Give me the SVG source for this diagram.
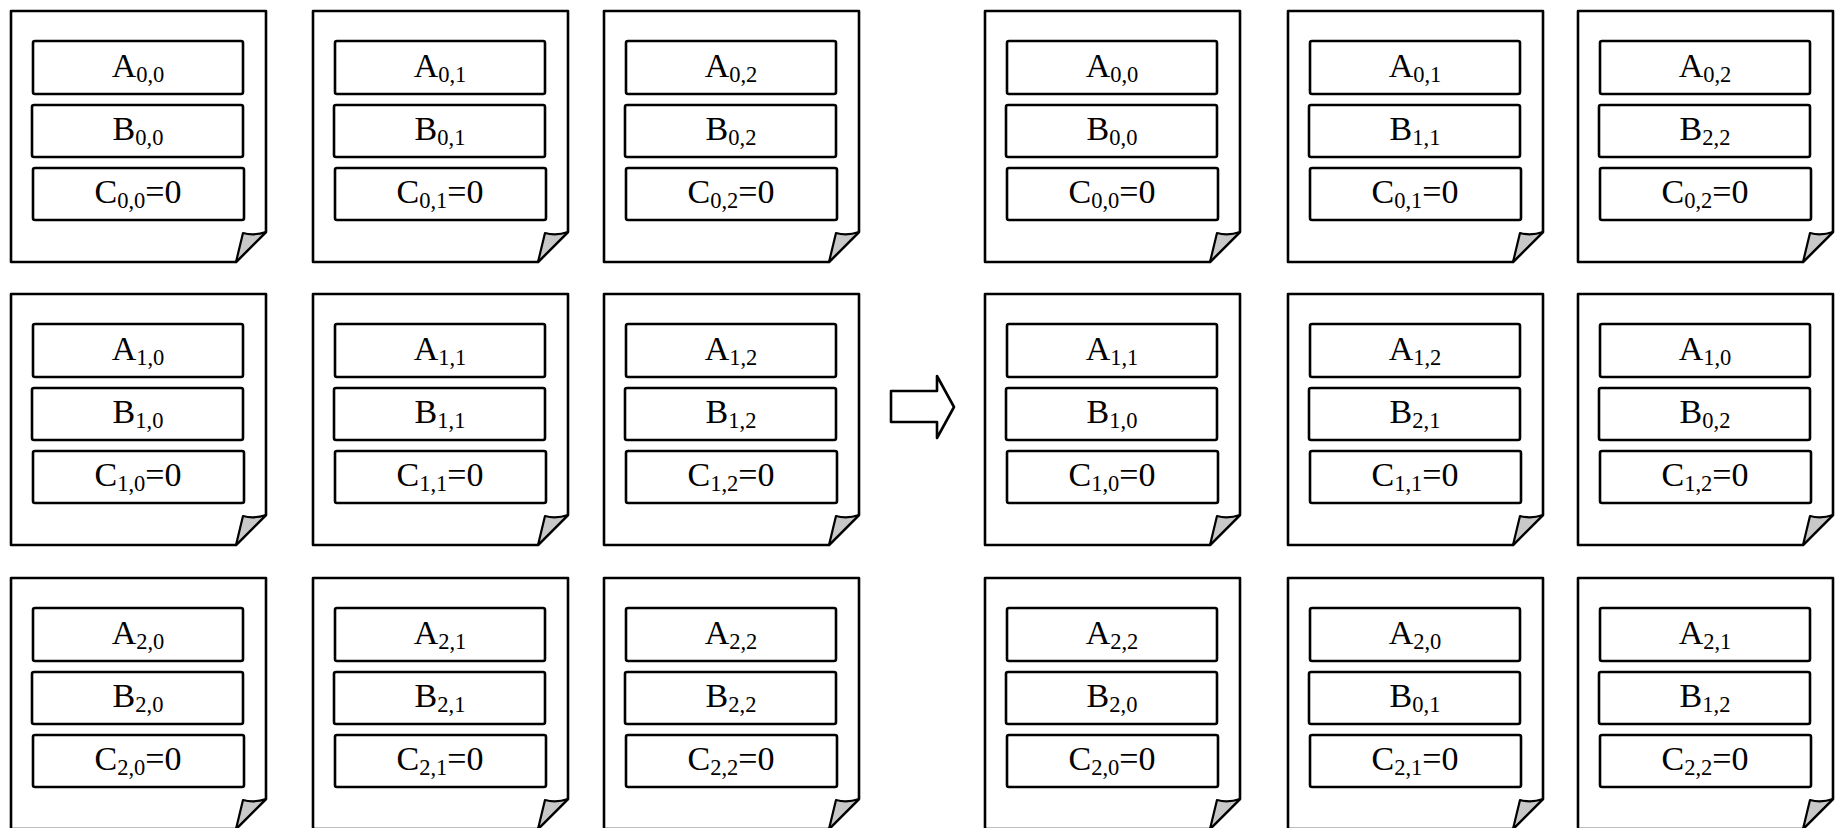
<svg xmlns="http://www.w3.org/2000/svg" xmlns:xlink="http://www.w3.org/1999/xlink" width="1840" height="828" viewBox="0 0 1840 828">
  <style>
    .page { fill: #ffffff; stroke: #000000; stroke-width: 2.6; stroke-linejoin: round; }
    .fold { fill: #c8c8c8; stroke: #000000; stroke-width: 2.2; stroke-linejoin: round; }
    .cell { fill: #ffffff; stroke: #000000; stroke-width: 2.6; }
    .lbl { font-family: "Liberation Serif", "Times New Roman", serif; font-size: 34px; fill: #000000; text-anchor: middle; }
    .sub { font-size: 22.5px; }
    .arrow { fill: #ffffff; stroke: #000000; stroke-width: 2.6; stroke-linejoin: round; }
  </style>
  <defs>
    <!-- sheet of paper with dog-eared bottom-right corner and three cells -->
    <g id="sheet">
      <path class="page" d="M0,0 H255 V221 L225,251 H0 Z"/>
      <path class="fold" d="M255,221 L225,251 L232,222 Q243,225 255,221 Z"/>
      <rect class="cell" x="22" y="30" width="210" height="53" rx="2"/>
      <rect class="cell" x="21" y="94" width="211" height="52" rx="2"/>
      <rect class="cell" x="22" y="157" width="211" height="52" rx="2"/>
    </g>
  </defs>

  <!-- left grid: initial distribution -->
  <g id="L00" transform="translate(11,11)"><use xlink:href="#sheet"/>
    <text class="lbl" x="127" y="66">A<tspan class="sub" dy="5">0,0</tspan></text>
    <text class="lbl" x="127" y="129">B<tspan class="sub" dy="5">0,0</tspan></text>
    <text class="lbl" x="127" y="192">C<tspan class="sub" dy="5">0,0</tspan><tspan dy="-5">=0</tspan></text></g>
  <g id="L01" transform="translate(313,11)"><use xlink:href="#sheet"/>
    <text class="lbl" x="127" y="66">A<tspan class="sub" dy="5">0,1</tspan></text>
    <text class="lbl" x="127" y="129">B<tspan class="sub" dy="5">0,1</tspan></text>
    <text class="lbl" x="127" y="192">C<tspan class="sub" dy="5">0,1</tspan><tspan dy="-5">=0</tspan></text></g>
  <g id="L02" transform="translate(604,11)"><use xlink:href="#sheet"/>
    <text class="lbl" x="127" y="66">A<tspan class="sub" dy="5">0,2</tspan></text>
    <text class="lbl" x="127" y="129">B<tspan class="sub" dy="5">0,2</tspan></text>
    <text class="lbl" x="127" y="192">C<tspan class="sub" dy="5">0,2</tspan><tspan dy="-5">=0</tspan></text></g>

  <g id="L10" transform="translate(11,294)"><use xlink:href="#sheet"/>
    <text class="lbl" x="127" y="66">A<tspan class="sub" dy="5">1,0</tspan></text>
    <text class="lbl" x="127" y="129">B<tspan class="sub" dy="5">1,0</tspan></text>
    <text class="lbl" x="127" y="192">C<tspan class="sub" dy="5">1,0</tspan><tspan dy="-5">=0</tspan></text></g>
  <g id="L11" transform="translate(313,294)"><use xlink:href="#sheet"/>
    <text class="lbl" x="127" y="66">A<tspan class="sub" dy="5">1,1</tspan></text>
    <text class="lbl" x="127" y="129">B<tspan class="sub" dy="5">1,1</tspan></text>
    <text class="lbl" x="127" y="192">C<tspan class="sub" dy="5">1,1</tspan><tspan dy="-5">=0</tspan></text></g>
  <g id="L12" transform="translate(604,294)"><use xlink:href="#sheet"/>
    <text class="lbl" x="127" y="66">A<tspan class="sub" dy="5">1,2</tspan></text>
    <text class="lbl" x="127" y="129">B<tspan class="sub" dy="5">1,2</tspan></text>
    <text class="lbl" x="127" y="192">C<tspan class="sub" dy="5">1,2</tspan><tspan dy="-5">=0</tspan></text></g>

  <g id="L20" transform="translate(11,578)"><use xlink:href="#sheet"/>
    <text class="lbl" x="127" y="66">A<tspan class="sub" dy="5">2,0</tspan></text>
    <text class="lbl" x="127" y="129">B<tspan class="sub" dy="5">2,0</tspan></text>
    <text class="lbl" x="127" y="192">C<tspan class="sub" dy="5">2,0</tspan><tspan dy="-5">=0</tspan></text></g>
  <g id="L21" transform="translate(313,578)"><use xlink:href="#sheet"/>
    <text class="lbl" x="127" y="66">A<tspan class="sub" dy="5">2,1</tspan></text>
    <text class="lbl" x="127" y="129">B<tspan class="sub" dy="5">2,1</tspan></text>
    <text class="lbl" x="127" y="192">C<tspan class="sub" dy="5">2,1</tspan><tspan dy="-5">=0</tspan></text></g>
  <g id="L22" transform="translate(604,578)"><use xlink:href="#sheet"/>
    <text class="lbl" x="127" y="66">A<tspan class="sub" dy="5">2,2</tspan></text>
    <text class="lbl" x="127" y="129">B<tspan class="sub" dy="5">2,2</tspan></text>
    <text class="lbl" x="127" y="192">C<tspan class="sub" dy="5">2,2</tspan><tspan dy="-5">=0</tspan></text></g>

  <!-- connector: block arrow -->
  <g id="connectors">
    <path class="arrow" d="M891,391 H937 V376 L954,407 L937,438 V422 H891 Z"/>
  </g>

  <!-- right grid: after initial skew -->
  <g id="R00" transform="translate(985,11)"><use xlink:href="#sheet"/>
    <text class="lbl" x="127" y="66">A<tspan class="sub" dy="5">0,0</tspan></text>
    <text class="lbl" x="127" y="129">B<tspan class="sub" dy="5">0,0</tspan></text>
    <text class="lbl" x="127" y="192">C<tspan class="sub" dy="5">0,0</tspan><tspan dy="-5">=0</tspan></text></g>
  <g id="R01" transform="translate(1288,11)"><use xlink:href="#sheet"/>
    <text class="lbl" x="127" y="66">A<tspan class="sub" dy="5">0,1</tspan></text>
    <text class="lbl" x="127" y="129">B<tspan class="sub" dy="5">1,1</tspan></text>
    <text class="lbl" x="127" y="192">C<tspan class="sub" dy="5">0,1</tspan><tspan dy="-5">=0</tspan></text></g>
  <g id="R02" transform="translate(1578,11)"><use xlink:href="#sheet"/>
    <text class="lbl" x="127" y="66">A<tspan class="sub" dy="5">0,2</tspan></text>
    <text class="lbl" x="127" y="129">B<tspan class="sub" dy="5">2,2</tspan></text>
    <text class="lbl" x="127" y="192">C<tspan class="sub" dy="5">0,2</tspan><tspan dy="-5">=0</tspan></text></g>

  <g id="R10" transform="translate(985,294)"><use xlink:href="#sheet"/>
    <text class="lbl" x="127" y="66">A<tspan class="sub" dy="5">1,1</tspan></text>
    <text class="lbl" x="127" y="129">B<tspan class="sub" dy="5">1,0</tspan></text>
    <text class="lbl" x="127" y="192">C<tspan class="sub" dy="5">1,0</tspan><tspan dy="-5">=0</tspan></text></g>
  <g id="R11" transform="translate(1288,294)"><use xlink:href="#sheet"/>
    <text class="lbl" x="127" y="66">A<tspan class="sub" dy="5">1,2</tspan></text>
    <text class="lbl" x="127" y="129">B<tspan class="sub" dy="5">2,1</tspan></text>
    <text class="lbl" x="127" y="192">C<tspan class="sub" dy="5">1,1</tspan><tspan dy="-5">=0</tspan></text></g>
  <g id="R12" transform="translate(1578,294)"><use xlink:href="#sheet"/>
    <text class="lbl" x="127" y="66">A<tspan class="sub" dy="5">1,0</tspan></text>
    <text class="lbl" x="127" y="129">B<tspan class="sub" dy="5">0,2</tspan></text>
    <text class="lbl" x="127" y="192">C<tspan class="sub" dy="5">1,2</tspan><tspan dy="-5">=0</tspan></text></g>

  <g id="R20" transform="translate(985,578)"><use xlink:href="#sheet"/>
    <text class="lbl" x="127" y="66">A<tspan class="sub" dy="5">2,2</tspan></text>
    <text class="lbl" x="127" y="129">B<tspan class="sub" dy="5">2,0</tspan></text>
    <text class="lbl" x="127" y="192">C<tspan class="sub" dy="5">2,0</tspan><tspan dy="-5">=0</tspan></text></g>
  <g id="R21" transform="translate(1288,578)"><use xlink:href="#sheet"/>
    <text class="lbl" x="127" y="66">A<tspan class="sub" dy="5">2,0</tspan></text>
    <text class="lbl" x="127" y="129">B<tspan class="sub" dy="5">0,1</tspan></text>
    <text class="lbl" x="127" y="192">C<tspan class="sub" dy="5">2,1</tspan><tspan dy="-5">=0</tspan></text></g>
  <g id="R22" transform="translate(1578,578)"><use xlink:href="#sheet"/>
    <text class="lbl" x="127" y="66">A<tspan class="sub" dy="5">2,1</tspan></text>
    <text class="lbl" x="127" y="129">B<tspan class="sub" dy="5">1,2</tspan></text>
    <text class="lbl" x="127" y="192">C<tspan class="sub" dy="5">2,2</tspan><tspan dy="-5">=0</tspan></text></g>
</svg>
